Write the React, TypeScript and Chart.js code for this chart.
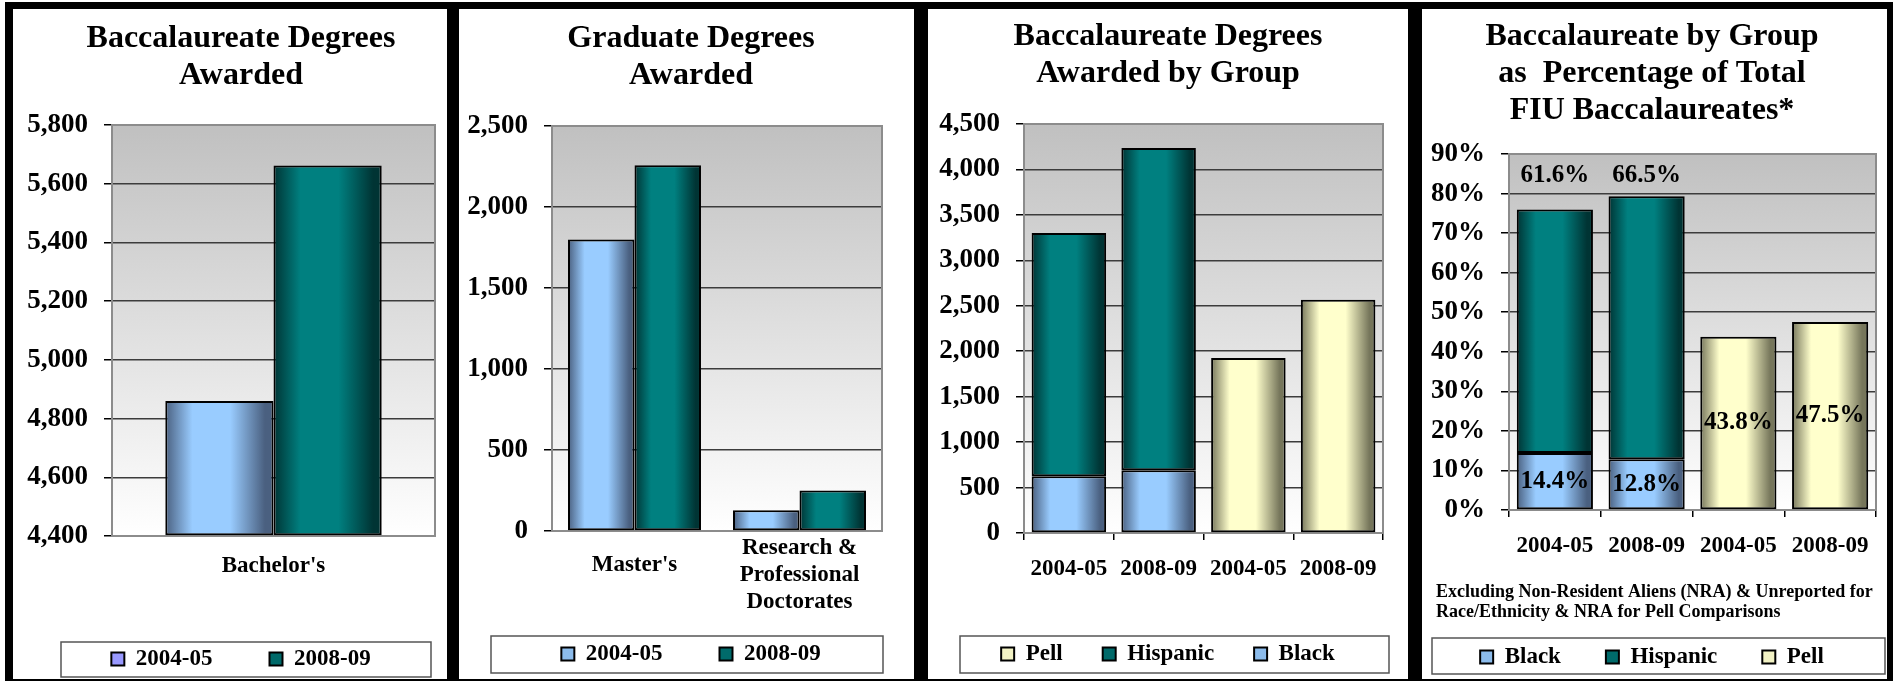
import React, { useEffect, useRef } from 'react';
import { Chart, registerables } from 'chart.js';

Chart.register(...registerables);

const FONT = "'Liberation Serif', 'Times New Roman', serif";
Chart.defaults.font.family = FONT;
Chart.defaults.color = '#000';

// ---------------- data ----------------
const yearLabels = ['2004-05', '2008-09'];

const bachCategories = ["Bachelor's"];
const bach2004 = [4860];
const bach2008 = [5662];
const bachMin = 4400;
const bachMax = 5800;
const bachStep = 200;

const gradCategories: (string | string[])[] = ["Master's", ['Research &', 'Professional', 'Doctorates']];
const grad2004 = [1800, 128];
const grad2008 = [2258, 250];
const gradMax = 2500;
const gradStep = 500;

const groupCategories = ['2004-05', '2008-09', '2004-05', '2008-09'];
const groupBlack = [625, 690, null, null];
const groupHispanic = [2675, 3545, null, null];
const groupPell = [null, null, 1925, 2565];
const groupMax = 4500;
const groupStep = 500;

const pctCategories = ['2004-05', '2008-09', '2004-05', '2008-09'];
const pctBlack = [14.4, 12.8, null, null];
const pctHispanic = [61.6, 66.5, null, null];
const pctPell = [null, null, 43.8, 47.5];
const pctMax = 90;
const pctStep = 10;

const title1 = ['Baccalaureate Degrees', 'Awarded'];
const title2 = ['Graduate Degrees', 'Awarded'];
const title3 = ['Baccalaureate Degrees', 'Awarded by Group'];
const title4 = ['Baccalaureate by Group', 'as  Percentage of Total', 'FIU Baccalaureates*'];
const footnoteLines = [
  'Excluding Non-Resident Aliens (NRA) & Unreported for',
  'Race/Ethnicity & NRA for Pell Comparisons',
];

// ---------------- styles ----------------
const SHADES: Record<string, { dark: string; light: string; key: string }> = {
  blue: { dark: '#4a6080', light: '#99ccff', key: '#8cbcec' },
  teal: { dark: '#003434', light: '#008080', key: '#006a6a' },
  pell: { dark: '#76765b', light: '#ffffcc', key: '#f2f2c4' },
};

const CANVAS_H = 672;
const PANEL_TOP = 9;
const PANEL_H = 670;

const fmtComma = (v: any) => Number(v).toLocaleString('en-US');
const fmtPct = (v: any) => `${v}%`;

const noLabelClip = (s: any) => {
  s._computeLabelArea = () => undefined;
};

const decorPlugin = {
  id: 'decor',
  beforeDraw(chart: any) {
    const { ctx, chartArea: a } = chart;
    const g = ctx.createLinearGradient(0, a.top, 0, a.bottom);
    g.addColorStop(0, '#c0c0c0');
    g.addColorStop(1, '#ffffff');
    ctx.save();
    ctx.fillStyle = g;
    ctx.fillRect(a.left, a.top, a.right - a.left, a.bottom - a.top);
    ctx.restore();
  },
  beforeDatasetsDraw(chart: any) {
    const { ctx, chartArea: a } = chart;
    ctx.save();
    ctx.strokeStyle = '#8c8c8c';
    ctx.lineWidth = 2;
    ctx.strokeRect(a.left, a.top, a.right - a.left, a.bottom - a.top);
    ctx.restore();
    chart.data.datasets.forEach((ds: any, i: number) => {
      const shade = SHADES[ds.shadeKey];
      if (!shade) return;
      const meta = chart.getDatasetMeta(i);
      meta.data.forEach((el: any) => {
        if (!isFinite(el.x) || !isFinite(el.width) || el.width <= 0) return;
        const x0 = el.x - el.width / 2;
        const x1 = el.x + el.width / 2;
        const g = ctx.createLinearGradient(x0, 0, x1, 0);
        g.addColorStop(0, shade.dark);
        g.addColorStop(0.25, shade.light);
        g.addColorStop(0.6, shade.light);
        g.addColorStop(0.92, shade.dark);
        g.addColorStop(1, shade.dark);
        el.options = { ...el.options, backgroundColor: g };
      });
    });
  },
  afterDatasetsDraw(chart: any, _args: any, opts: any) {
    const vl = opts && opts.valueLabels;
    if (!vl) return;
    const { ctx } = chart;
    ctx.save();
    ctx.font = `bold 25px ${FONT}`;
    ctx.fillStyle = '#000';
    ctx.textAlign = 'center';
    ctx.textBaseline = 'middle';
    vl.forEach((cfg: any) => {
      const meta = chart.getDatasetMeta(cfg.dataset);
      const data = chart.data.datasets[cfg.dataset].data;
      meta.data.forEach((el: any, i: number) => {
        const v = data[i];
        if (v == null) return;
        const ty = cfg.pos === 'center' ? (el.y + el.base) / 2 : chart.chartArea.top + cfg.offset;
        ctx.fillText(`${Number(v).toFixed(1)}%`, el.x, ty);
      });
    });
    ctx.restore();
  },
  afterDraw(chart: any, _args: any, opts: any) {
    const { ctx } = chart;
    if (opts && opts.legendFrame) {
      const [x, y, w, h] = opts.legendFrame;
      ctx.save();
      ctx.strokeStyle = '#555';
      ctx.lineWidth = 1.5;
      ctx.strokeRect(x, y, w, h);
      ctx.restore();
    }
    if (opts && opts.footnote) {
      const f = opts.footnote;
      ctx.save();
      ctx.font = `bold ${f.size}px ${FONT}`;
      ctx.fillStyle = '#000';
      ctx.textAlign = 'left';
      ctx.textBaseline = 'middle';
      f.lines.forEach((ln: string, i: number) => ctx.fillText(ln, f.x, f.y + i * f.lh));
      ctx.restore();
    }
  },
};

interface PanelSpec {
  id: string;
  left: number;
  width: number;
  categories: any[];
  datasets: { label: string; data: (number | null)[]; shadeKey: string }[];
  stacked: boolean;
  yMin: number;
  yMax: number;
  yStep: number;
  yFormat: (v: any) => string;
  base?: number;
  catPct: number;
  title: string[];
  titlePad: [number, number];
  padL: number;
  padR: number;
  padB: number;
  yWidth: number;
  xHeight: number;
  xTickPad: number;
  xTicks: boolean;
  firstLabelLH?: number;
  legendItems: { text: string; color: string }[];
  legendPad: number;
  legendFrame: [number, number, number, number];
  footnote?: any;
  valueLabels?: any[];
}

function buildConfig(p: PanelSpec): any {
  return {
    type: 'bar',
    data: {
      labels: p.categories,
      datasets: p.datasets.map((d) => ({
        label: d.label,
        data: d.data,
        shadeKey: d.shadeKey,
        backgroundColor: SHADES[d.shadeKey].light,
        borderColor: '#000',
        borderWidth: 2,
        borderSkipped: false,
        categoryPercentage: p.catPct,
        barPercentage: 1,
        ...(p.base !== undefined ? { base: p.base } : {}),
      })),
    },
    plugins: [decorPlugin],
    options: {
      animation: false,
      responsive: false,
      events: [],
      layout: { padding: { left: p.padL, right: p.padR, top: 0, bottom: p.padB } },
      scales: {
        x: {
          stacked: p.stacked,
          grid: {
            display: p.xTicks,
            drawOnChartArea: false,
            drawTicks: p.xTicks,
            tickLength: 7,
            tickColor: '#000',
            lineWidth: 1.5,
          },
          border: { display: true, color: '#7a7a7a', width: 1.5 },
          ticks: {
            autoSkip: false,
            maxRotation: 0,
            minRotation: 0,
            padding: p.xTickPad,
            color: '#000',
            font: (c: any) => ({
              size: 23,
              weight: 'bold',
              family: FONT,
              lineHeight: p.firstLabelLH && c.index === 0 ? p.firstLabelLH : 1.174,
            }),
          },
          afterFit: (s: any) => {
            s.height = p.xHeight;
            noLabelClip(s);
          },
        },
        y: {
          stacked: p.stacked,
          min: p.yMin,
          max: p.yMax,
          ticks: {
            stepSize: p.yStep,
            autoSkip: false,
            padding: 16,
            color: '#000',
            font: { size: 27, weight: 'bold', family: FONT },
            callback: p.yFormat,
          },
          grid: { color: '#3c3c3c', lineWidth: 1.5, tickLength: 8, tickColor: '#000', drawTicks: true },
          border: { display: true, color: '#555', width: 1.5 },
          afterFit: (s: any) => {
            s.width = p.yWidth;
            noLabelClip(s);
          },
        },
      },
      plugins: {
        tooltip: { enabled: false },
        title: {
          display: true,
          text: p.title,
          color: '#000',
          font: { size: 32, weight: 'bold', family: FONT, lineHeight: 37 / 32 },
          padding: { top: p.titlePad[0], bottom: p.titlePad[1] },
        },
        legend: {
          display: true,
          position: 'bottom',
          labels: {
            boxWidth: 13,
            boxHeight: 13,
            padding: p.legendPad,
            color: '#000',
            font: { size: 23, weight: 'bold', family: FONT },
            generateLabels: () =>
              p.legendItems.map((it, i) => ({
                text: it.text,
                fillStyle: it.color,
                strokeStyle: '#000',
                lineWidth: 2,
                hidden: false,
                fontColor: '#000',
                index: i,
              })),
          },
        },
        decor: {
          legendFrame: p.legendFrame,
          footnote: p.footnote,
          valueLabels: p.valueLabels,
        },
      },
    },
  };
}

const PANELS: PanelSpec[] = [
  {
    id: 'bach',
    left: 13,
    width: 434,
    categories: bachCategories,
    datasets: [
      { label: yearLabels[0], data: bach2004, shadeKey: 'blue' },
      { label: yearLabels[1], data: bach2008, shadeKey: 'teal' },
    ],
    stacked: false,
    yMin: bachMin,
    yMax: bachMax,
    yStep: bachStep,
    yFormat: fmtComma,
    base: bachMin,
    catPct: 0.67,
    title: title1,
    titlePad: [11.5, 30.5],
    padL: 34,
    padR: 12,
    padB: 0.5,
    yWidth: 65,
    xHeight: 54.5,
    xTickPad: 17,
    xTicks: false,
    legendItems: [
      { text: yearLabels[0], color: '#9999ff' },
      { text: yearLabels[1], color: SHADES.teal.key },
    ],
    legendPad: 57,
    legendFrame: [48, 633, 370, 35],
  },
  {
    id: 'grad',
    left: 459,
    width: 455,
    categories: gradCategories,
    datasets: [
      { label: yearLabels[0], data: grad2004, shadeKey: 'blue' },
      { label: yearLabels[1], data: grad2008, shadeKey: 'teal' },
    ],
    stacked: false,
    yMin: 0,
    yMax: gradMax,
    yStep: gradStep,
    yFormat: fmtComma,
    catPct: 0.806,
    title: title2,
    titlePad: [11.5, 31.5],
    padL: 41,
    padR: 32,
    padB: 5.5,
    yWidth: 52,
    xHeight: 54.5,
    xTickPad: 3.5,
    xTicks: false,
    firstLabelLH: 61 / 23,
    legendItems: [
      { text: yearLabels[0], color: SHADES.blue.key },
      { text: yearLabels[1], color: SHADES.teal.key },
    ],
    legendPad: 57,
    legendFrame: [32, 627, 392, 37],
  },
  {
    id: 'group',
    left: 928,
    width: 480,
    categories: groupCategories,
    datasets: [
      { label: 'Black', data: groupBlack, shadeKey: 'blue' },
      { label: 'Hispanic', data: groupHispanic, shadeKey: 'teal' },
      { label: 'Pell', data: groupPell, shadeKey: 'pell' },
    ],
    stacked: true,
    yMin: 0,
    yMax: groupMax,
    yStep: groupStep,
    yFormat: fmtComma,
    catPct: 0.83,
    title: title3,
    titlePad: [9.5, 31.5],
    padL: 25,
    padR: 25,
    padB: 5.5,
    yWidth: 71,
    xHeight: 69.5,
    xTickPad: 15.2,
    xTicks: true,
    legendItems: [
      { text: 'Pell', color: SHADES.pell.key },
      { text: 'Hispanic', color: SHADES.teal.key },
      { text: 'Black', color: SHADES.blue.key },
    ],
    legendPad: 40,
    legendFrame: [32, 627, 429, 37],
  },
  {
    id: 'pct',
    left: 1422,
    width: 465,
    categories: pctCategories,
    datasets: [
      { label: 'Black', data: pctBlack, shadeKey: 'blue' },
      { label: 'Hispanic', data: pctHispanic, shadeKey: 'teal' },
      { label: 'Pell', data: pctPell, shadeKey: 'pell' },
    ],
    stacked: true,
    yMin: 0,
    yMax: pctMax,
    yStep: pctStep,
    yFormat: fmtPct,
    catPct: 0.83,
    title: title4,
    titlePad: [9.5, 24.5],
    padL: 6,
    padR: 11,
    padB: 2.5,
    yWidth: 81,
    xHeight: 90.5,
    xTickPad: 15.2,
    xTicks: true,
    legendItems: [
      { text: 'Black', color: SHADES.blue.key },
      { text: 'Hispanic', color: SHADES.teal.key },
      { text: 'Pell', color: SHADES.pell.key },
    ],
    legendPad: 45,
    legendFrame: [10, 629, 453, 36],
    footnote: { lines: footnoteLines, x: 14, y: 583, lh: 20, size: 18 },
    valueLabels: [
      { dataset: 0, pos: 'center' },
      { dataset: 1, pos: 'top', offset: 22 },
      { dataset: 2, pos: 'center' },
    ],
  },
];

function ChartPanel({ spec }: { spec: PanelSpec }) {
  const ref = useRef<HTMLCanvasElement>(null);
  useEffect(() => {
    if (!ref.current) return;
    const chart = new Chart(ref.current, buildConfig(spec));
    return () => chart.destroy();
  }, [spec]);
  return (
    <canvas
      ref={ref}
      width={spec.width}
      height={CANVAS_H}
      style={{ position: 'absolute', left: spec.left, top: PANEL_TOP, width: spec.width, height: CANVAS_H }}
    />
  );
}

export default function App() {
  return (
    <div
      style={{
        position: 'absolute',
        left: 0,
        top: 0,
        width: 1900,
        height: 681,
        background: '#fff',
        overflow: 'hidden',
      }}
    >
      <div style={{ position: 'absolute', left: 5, top: 2, width: 1888, height: 679, background: '#000' }} />
      {PANELS.map((p) => (
        <div
          key={`bg-${p.id}`}
          style={{ position: 'absolute', left: p.left, top: PANEL_TOP, width: p.width, height: PANEL_H, background: '#fff' }}
        />
      ))}
      {PANELS.map((p) => (
        <ChartPanel key={p.id} spec={p} />
      ))}
    </div>
  );
}
